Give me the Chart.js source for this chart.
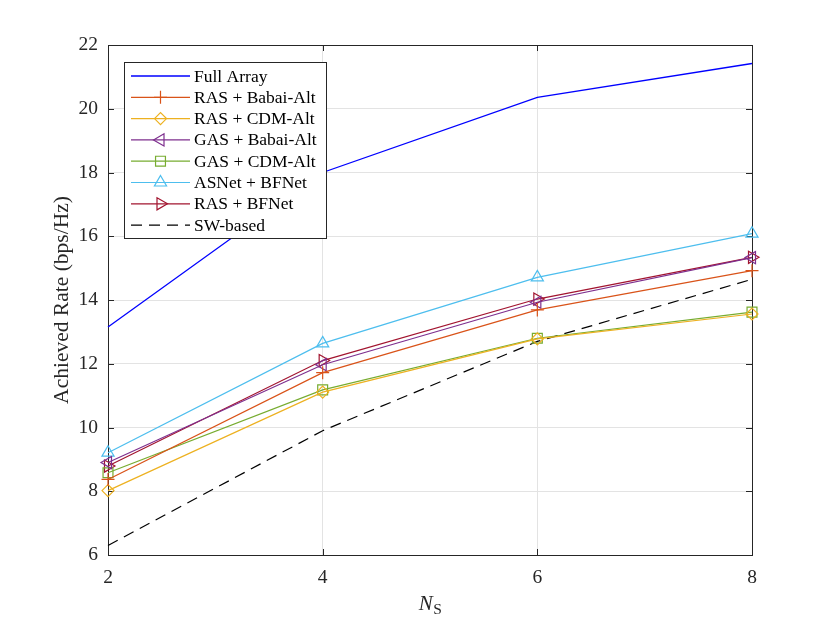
<!DOCTYPE html>
<html>
<head>
<meta charset="utf-8">
<script src="https://cdn.jsdelivr.net/npm/chart.js@4.4.0/dist/chart.umd.min.js"></script>
<style>
  html, body { margin: 0; padding: 0; background: #ffffff; }
  #wrap { width: 830px; height: 623px; position: relative; }
</style>
</head>
<body>
<div id="wrap"><canvas id="c"></canvas></div>
<script>
// ---- Data ----
const ns = [2, 4, 6, 8];
const xTicks = [2, 4, 6, 8];
const yTicks = [6, 8, 10, 12, 14, 16, 18, 20, 22];

const fullArray   = [13.15, 18.00, 20.36, 21.42];
const rasBabai    = [8.37, 11.72, 13.69, 14.92];
const rasCdm      = [8.02, 11.11, 12.78, 13.56];
const gasBabai    = [8.90, 11.97, 13.93, 15.33];
const gasCdm      = [8.58, 11.18, 12.80, 13.62];
const asnetBfnet  = [9.21, 12.64, 14.71, 16.08];
const rasBfnet    = [8.79, 12.10, 14.03, 15.34];
const swBased     = [6.30, 9.90, 12.70, 14.65];

const labels = ['Full Array', 'RAS + Babai-Alt', 'RAS + CDM-Alt', 'GAS + Babai-Alt',
                'GAS + CDM-Alt', 'ASNet + BFNet', 'RAS + BFNet', 'SW-based'];

const SERIF = '"Liberation Serif", "Times New Roman", serif';
const AXC = '#262626';

function pts(arr) { return arr.map((v, i) => ({ x: ns[i], y: v })); }

function ds(label, data, color, style, radius, rotation, dash) {
  return {
    label: label,
    data: pts(data),
    borderColor: color,
    backgroundColor: color,
    borderWidth: 1.2,
    borderDash: dash || [],
    pointStyle: style || false,
    pointRadius: style ? radius : 0,
    pointRotation: rotation || 0,
    pointBorderColor: color,
    pointBackgroundColor: 'rgba(0,0,0,0)',
    pointBorderWidth: 1.2,
    pointHoverRadius: style ? radius : 0,
    tension: 0,
    fill: false,
    clip: false
  };
}

const datasets = [
  ds(labels[0], fullArray, '#0000ff', null, 0),
  ds(labels[1], rasBabai, '#D95319', 'cross', 6.5),
  ds(labels[2], rasCdm, '#EDB120', 'rectRot', 6),
  ds(labels[3], gasBabai, '#7E2F8E', 'triangle', 7, -90),
  ds(labels[4], gasCdm, '#77AC30', 'rect', 7),
  ds(labels[5], asnetBfnet, '#4DBEEE', 'triangle', 7, 0),
  ds(labels[6], rasBfnet, '#A2142F', 'triangle', 7, 90),
  ds(labels[7], swBased, '#000000', null, 0, 0, [11, 7])
];
datasets[0].borderWidth = 1.3;

function drawMarker(ctx, style, x, y, r, rot) {
  if (Chart.helpers && Chart.helpers.drawPoint) {
    Chart.helpers.drawPoint(ctx, { pointStyle: style, rotation: rot || 0, radius: r, borderWidth: 1.2 }, x, y);
  }
}

const framePlugin = {
  id: 'frame',
  beforeDatasetsDraw(chart) {
    const ctx = chart.ctx;
    const a = chart.chartArea;
    const xs = chart.scales.x, ys = chart.scales.y;
    ctx.save();
    ctx.strokeStyle = AXC;
    ctx.lineWidth = 1;
    ctx.beginPath();
    xTicks.forEach(t => {
      const px = Math.round(xs.getPixelForValue(t)) + 0.5;
      ctx.moveTo(px, a.bottom); ctx.lineTo(px, a.bottom - 6);
      ctx.moveTo(px, a.top); ctx.lineTo(px, a.top + 6);
    });
    yTicks.forEach(t => {
      const py = Math.round(ys.getPixelForValue(t)) + 0.5;
      ctx.moveTo(a.left, py); ctx.lineTo(a.left + 6, py);
      ctx.moveTo(a.right, py); ctx.lineTo(a.right - 6, py);
    });
    ctx.stroke();
    ctx.strokeRect(Math.round(a.left) + 0.5, Math.round(a.top) + 0.5,
                   Math.round(a.right - a.left), Math.round(a.bottom - a.top));
    ctx.restore();
  },
  afterDatasetsDraw(chart) {
    const ctx = chart.ctx;
    const a = chart.chartArea;
    ctx.save();
    // legend
    const lx = 124.5, ly = 62.5, lw = 202, lh = 176;
    ctx.fillStyle = '#ffffff';
    ctx.fillRect(lx, ly, lw, lh);
    ctx.strokeStyle = AXC;
    ctx.lineWidth = 1;
    ctx.strokeRect(lx, ly, lw, lh);
    const rowY0 = 76, rowH = 21.3;
    ctx.font = '17.5px ' + SERIF;
    ctx.textBaseline = 'middle';
    ctx.textAlign = 'left';
    chart.data.datasets.forEach((d, i) => {
      const y = rowY0 + i * rowH;
      ctx.save();
      ctx.strokeStyle = d.borderColor;
      ctx.lineWidth = d.borderWidth;
      ctx.setLineDash(d.borderDash || []);
      ctx.beginPath();
      ctx.moveTo(131, y); ctx.lineTo(190, y);
      ctx.stroke();
      ctx.setLineDash([]);
      if (d.pointStyle) {
        ctx.strokeStyle = d.pointBorderColor;
        ctx.fillStyle = 'rgba(0,0,0,0)';
        ctx.lineWidth = 1.2;
        drawMarker(ctx, d.pointStyle, 160.5, y, d.pointRadius, d.pointRotation);
      }
      ctx.restore();
      ctx.fillStyle = '#000000';
      ctx.fillText(d.label, 194, y + 1);
    });

    // x-axis title N_S
    const cx = (a.left + a.right) / 2;
    ctx.fillStyle = AXC;
    ctx.textBaseline = 'alphabetic';
    ctx.font = 'italic 21px ' + SERIF;
    const wN = ctx.measureText('N').width;
    ctx.font = '15.5px ' + SERIF;
    const wS = ctx.measureText('S').width;
    const start = cx - (wN + wS) / 2;
    ctx.font = 'italic 21px ' + SERIF;
    ctx.fillText('N', start, 610);
    ctx.font = '15.5px ' + SERIF;
    ctx.fillText('S', start + wN + 0.5, 614);
    ctx.restore();
  }
};

new Chart(document.getElementById('c'), {
  type: 'line',
  data: { datasets: datasets },
  plugins: [framePlugin],
  options: {
    responsive: true,
    maintainAspectRatio: false,
    animation: false,
    layout: { padding: { left: 0, top: 45, right: 78, bottom: 0 } },
    plugins: {
      legend: { display: false },
      tooltip: { enabled: false },
      title: { display: false }
    },
    scales: {
      x: {
        type: 'linear',
        min: 2, max: 8,
        afterBuildTicks(scale) { scale.ticks = xTicks.map(v => ({ value: v })); },
        afterFit(scale) { scale.height = 68; },
        grid: { color: '#e3e3e3', drawTicks: false, lineWidth: 1 },
        border: { display: false },
        ticks: { color: AXC, font: { family: SERIF, size: 19.5 }, padding: 11, maxRotation: 0 },
        title: { display: false }
      },
      y: {
        type: 'linear',
        min: 6, max: 22,
        afterBuildTicks(scale) { scale.ticks = yTicks.map(v => ({ value: v })); },
        afterFit(scale) { scale.width = 108; },
        grid: { color: '#e3e3e3', drawTicks: false, lineWidth: 1 },
        border: { display: false },
        ticks: { color: AXC, font: { family: SERIF, size: 19.5 }, padding: 10 },
        title: {
          display: true,
          text: 'Achieved Rate (bps/Hz)',
          color: AXC,
          font: { family: SERIF, size: 21.5 },
          padding: { top: 49, bottom: 0 }
        }
      }
    }
  }
});
</script>
</body>
</html>
